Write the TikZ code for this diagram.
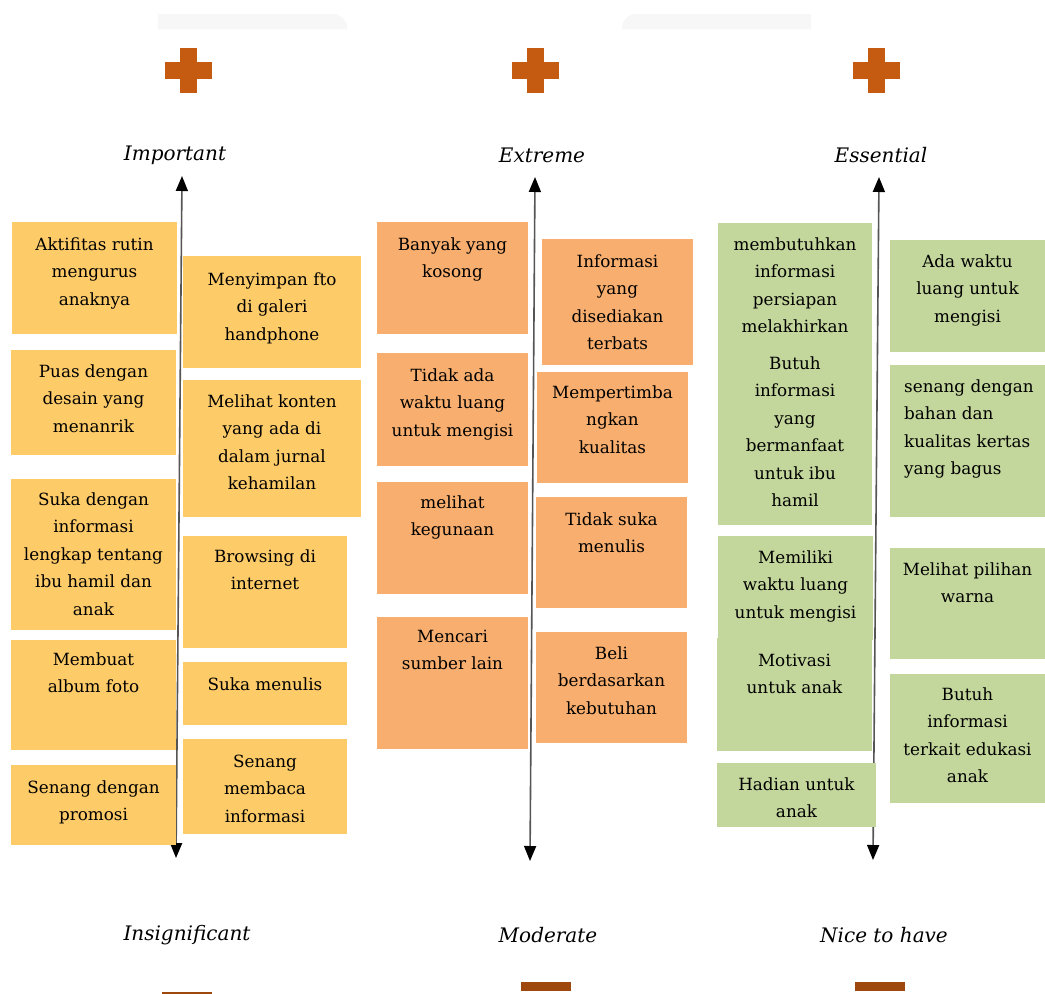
\documentclass[tikz,border=0pt]{standalone}
\usepackage{fontspec}
\setmainfont{DejaVu Serif}
\usetikzlibrary{arrows.meta,calc}
\definecolor{ylw}{RGB}{254,203,105}
\definecolor{org}{RGB}{248,174,110}
\definecolor{grn}{RGB}{195,214,155}
\definecolor{plusc}{RGB}{197,90,17}
\definecolor{minusc}{RGB}{158,72,14}
\definecolor{faint}{RGB}{247,247,247}
\definecolor{axisc}{RGB}{85,85,85}
\newcommand{\ml}[1]{\begin{tabular}[t]{@{}c@{}}#1\end{tabular}}
\newcommand{\mll}[1]{\begin{tabular}[t]{@{}l@{}}#1\end{tabular}}
\newcommand{\stk}[8]{%
  \node[stickybox, fill=#6, minimum width={#4-#2}, minimum height={#5-#3}] (#1) at (#2,#3) {};
  \node[stickytxt] (#1t) at ({(#2+#4)/2},#7) {\ml{#8}};}
\begin{document}
\begin{tikzpicture}[x=1pt,y=-1pt,
  stickybox/.style={draw=none, inner sep=0pt, outer sep=0pt, anchor=north west},
  stickytxt/.style={inner sep=0pt, anchor=base, font=\fontsize{16.8}{27.5}\selectfont},
  axislabel/.style={inner sep=0pt, font=\fontsize{20}{22}\selectfont\itshape},
  axisline/.style={axisc, line width=1.6pt, {Triangle[length=15pt,width=12pt,fill=black,color=black]}-{Triangle[length=15pt,width=12pt,fill=black,color=black]}}]
\fill[white] (0,0) rectangle (1045,994);
\useasboundingbox (0,0) rectangle (1045,994);
% faint shapes at top
\fill[faint] (158,29) -- (158,14) [rounded corners=14pt] -- (347,14) [sharp corners] -- (347,29) -- cycle;
\fill[faint] (811,29) -- (811,14) [rounded corners=14pt] -- (622,14) [sharp corners] -- (622,29) -- cycle;
% plus signs
\foreach \cx in {188,535,876}{
  \fill[plusc] (\cx-23.5,62) rectangle (\cx+23.5,79);
  \fill[plusc] (\cx-8.5,48) rectangle (\cx+8.5,93);
}
% minus signs
\fill[minusc] (162,992) rectangle (212,1000);
\fill[minusc] (521,982) rectangle (571,991);
\fill[minusc] (855,982) rectangle (905,991);
% axis labels
\node[axislabel] (imp) at (175,155) {Important};
\node[axislabel] (ext) at (542,155) {Extreme};
\node[axislabel] (ess) at (881,155) {Essential};
\node[axislabel] (ins) at (187,935) {Insignificant};
\node[axislabel] (mod) at (548,935) {Moderate};
\node[axislabel] (nth) at (884,935) {Nice to have};
% axes
\coordinate (a1t) at (182,176); \coordinate (a1b) at (176,858);
\coordinate (a2t) at (535,177); \coordinate (a2b) at (530,861);
\coordinate (a3t) at (879,177); \coordinate (a3b) at (873,860);
\draw[axisline] (a1t) -- (a1b);
\draw[axisline] (a2t) -- (a2b);
\draw[axisline] (a3t) -- (a3b);
% column 1
\stk{y1}{12}{222}{177}{334}{ylw}{250}{Aktifitas rutin\\mengurus\\anaknya}
\stk{y2}{11}{350}{176}{455}{ylw}{377}{Puas dengan\\desain yang\\menanrik}
\stk{y3}{11}{479}{176}{630}{ylw}{505}{Suka dengan\\informasi\\lengkap tentang\\ibu hamil dan\\anak}
\stk{y4}{11}{640}{176}{750}{ylw}{665}{Membuat\\album foto}
\stk{y5}{11}{765}{176}{845}{ylw}{793}{Senang dengan\\promosi}
\stk{y6}{183}{256}{361}{368}{ylw}{285}{Menyimpan fto\\di galeri\\handphone}
\stk{y7}{183}{380}{361}{517}{ylw}{407}{Melihat konten\\yang ada di\\dalam jurnal\\kehamilan}
\stk{y8}{183}{536}{347}{648}{ylw}{562}{Browsing di\\internet}
\stk{y9}{183}{662}{347}{725}{ylw}{690}{Suka menulis}
\stk{y10}{183}{739}{347}{834}{ylw}{767}{Senang\\membaca\\informasi}
% column 2
\stk{o1}{377}{222}{528}{334}{org}{250}{Banyak yang\\kosong}
\stk{o2}{377}{353}{528}{466}{org}{381}{Tidak ada\\waktu luang\\untuk mengisi}
\stk{o3}{377}{482}{528}{594}{org}{508}{melihat\\kegunaan}
\stk{o4}{377}{617}{528}{749}{org}{642}{Mencari\\sumber lain}
\stk{o5}{542}{239}{693}{365}{org}{267}{Informasi\\yang\\disediakan\\terbats}
\stk{o6}{537}{372}{688}{483}{org}{398}{Mempertimba\\ngkan\\kualitas}
\stk{o7}{536}{497}{687}{608}{org}{525}{Tidak suka\\menulis}
\stk{o8}{536}{632}{687}{743}{org}{659}{Beli\\berdasarkan\\kebutuhan}
% column 3
\stk{g1}{718}{223}{872}{351}{grn}{250}{membutuhkan\\informasi\\persiapan\\melakhirkan}
\stk{g2}{718}{350}{872}{525}{grn}{369}{Butuh\\informasi\\yang\\bermanfaat\\untuk ibu\\hamil}
\stk{g3}{718}{536}{873}{640}{grn}{563}{Memiliki\\waktu luang\\untuk mengisi}
\stk{g4}{717}{638}{872}{751}{grn}{666}{Motivasi\\untuk anak}
\stk{g5}{717}{763}{876}{827}{grn}{790}{Hadian untuk\\anak}
\stk{g6}{890}{240}{1045}{352}{grn}{267}{Ada waktu\\luang untuk\\mengisi}
\node[stickybox, fill=grn, minimum width=155, minimum height=152] (g7) at (890,365) {};
\node[stickytxt, anchor=base west] (g7t) at (904,392) {\mll{senang dengan\\bahan dan\\kualitas kertas\\yang bagus}};
\stk{g8}{890}{548}{1045}{659}{grn}{575}{Melihat pilihan\\warna}
\stk{g9}{890}{674}{1045}{803}{grn}{700}{Butuh\\informasi\\terkait edukasi\\anak}
\end{tikzpicture}
\end{document}
